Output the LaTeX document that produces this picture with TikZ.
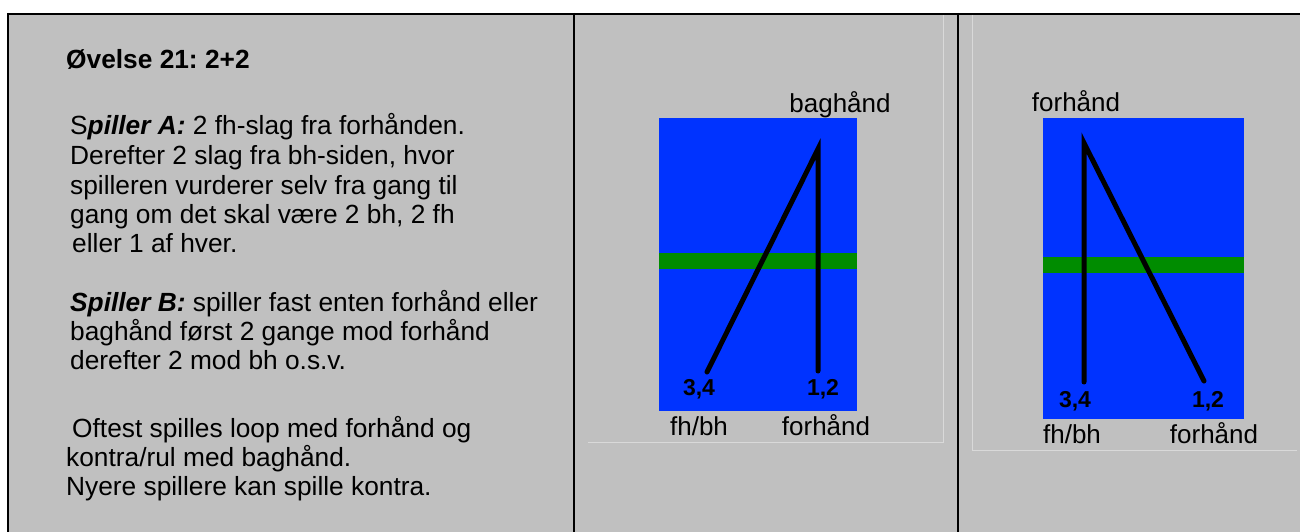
\documentclass[tikz,border=0pt]{standalone}
\usepackage{fontspec}
\setmainfont{Liberation Sans}
\frenchspacing
\definecolor{panelgray}{HTML}{C0C0C0}
\definecolor{court}{HTML}{0033FF}
\definecolor{netgreen}{HTML}{008C00}
\definecolor{faint}{HTML}{D9D9D9}
\begin{document}
\begin{tikzpicture}[x=1pt,y=-1pt,
  txt/.style={inner sep=0pt, anchor=base west, font=\fontsize{26.3}{29}\selectfont},
  lbl/.style={inner sep=0pt, anchor=base, font=\fontsize{26}{29}\selectfont},
  num/.style={inner sep=0pt, anchor=base, font=\fontsize{23}{25}\selectfont\bfseries},
  frameline/.style={line width=2pt, black},
  thinline/.style={line width=1pt, faint},
  shot/.style={line width=5pt, black, line cap=round},
  courtbox/.style={fill=court, draw=none},
  netband/.style={fill=netgreen, draw=none}]
\useasboundingbox (0,0) rectangle (1300,532);
\fill[white] (0,0) rectangle (1300,532);
\fill[panelgray] (8,14) rectangle (1300,532);
% frame
\draw[frameline] (7,14) -- (1300,14);
\draw[frameline] (8,13) -- (8,532);
\draw[frameline] (574,13) -- (574,532);
\draw[frameline] (957.7,13) -- (957.7,532);
% faint cell lines
\draw[thinline] (588,442) -- (943.7,442) -- (943.7,15);
\draw[thinline] (972.7,15) -- (972.7,450) -- (1297,450);
% left text
\node[txt] (title) at (66,69) {\bfseries Øvelse 21: 2+2};
\node[txt] (a1) at (70,135) {S\textbf{\textit{piller A:}} 2 fh-slag fra forhånden.};
\node[txt] (a2) at (70,164) {Derefter 2 slag fra bh-siden, hvor};
\node[txt] (a3) at (70,194) {spilleren vurderer selv fra gang til};
\node[txt] (a4) at (70,223) {gang om det skal være 2 bh, 2 fh};
\node[txt] (a5) at (72,252) {eller 1 af hver.};
\node[txt] (b1) at (70,311) {\textbf{\textit{Spiller B:}} spiller fast enten forhånd eller};
\node[txt] (b2) at (70,340) {baghånd først 2 gange mod forhånd};
\node[txt] (b3) at (70,369) {derefter 2 mod bh o.s.v.};
\node[txt] (c1) at (72,437) {Oftest spilles loop med forhånd og};
\node[txt] (c2) at (66,466) {kontra/rul med baghånd.};
\node[txt] (c3) at (66,495) {Nyere spillere kan spille kontra.};
% court 1
\fill[courtbox] (659,118) rectangle (857,411);
\fill[netband] (659,253) rectangle (857,269);
\coordinate (p1top) at (818,149);
\coordinate (p1fh) at (818,371);
\coordinate (p1bh) at (707,372);
\draw[shot] (p1fh) -- (p1top) -- (p1bh);
\node[lbl] (p1lblt) at (840,113) {baghånd};
\node[num] (p1n34) at (699,395) {3,4};
\node[num] (p1n12) at (823,395) {1,2};
\node[lbl] (p1lbll) at (699,435) {fh/bh};
\node[lbl] (p1lblr) at (826,435) {forhånd};
% court 2
\fill[courtbox] (1043,118) rectangle (1244,419);
\fill[netband] (1043,257) rectangle (1244,273);
\coordinate (p2top) at (1084,143);
\coordinate (p2bh) at (1084,382);
\coordinate (p2fh) at (1204,381);
\draw[shot] (p2bh) -- (p2top) -- (p2fh);
\node[lbl] (p2lblt) at (1076,112) {forhånd};
\node[num] (p2n34) at (1075,407) {3,4};
\node[num] (p2n12) at (1208,407) {1,2};
\node[lbl] (p2lbll) at (1072,443) {fh/bh};
\node[lbl] (p2lblr) at (1214,443) {forhånd};
\end{tikzpicture}
\end{document}
